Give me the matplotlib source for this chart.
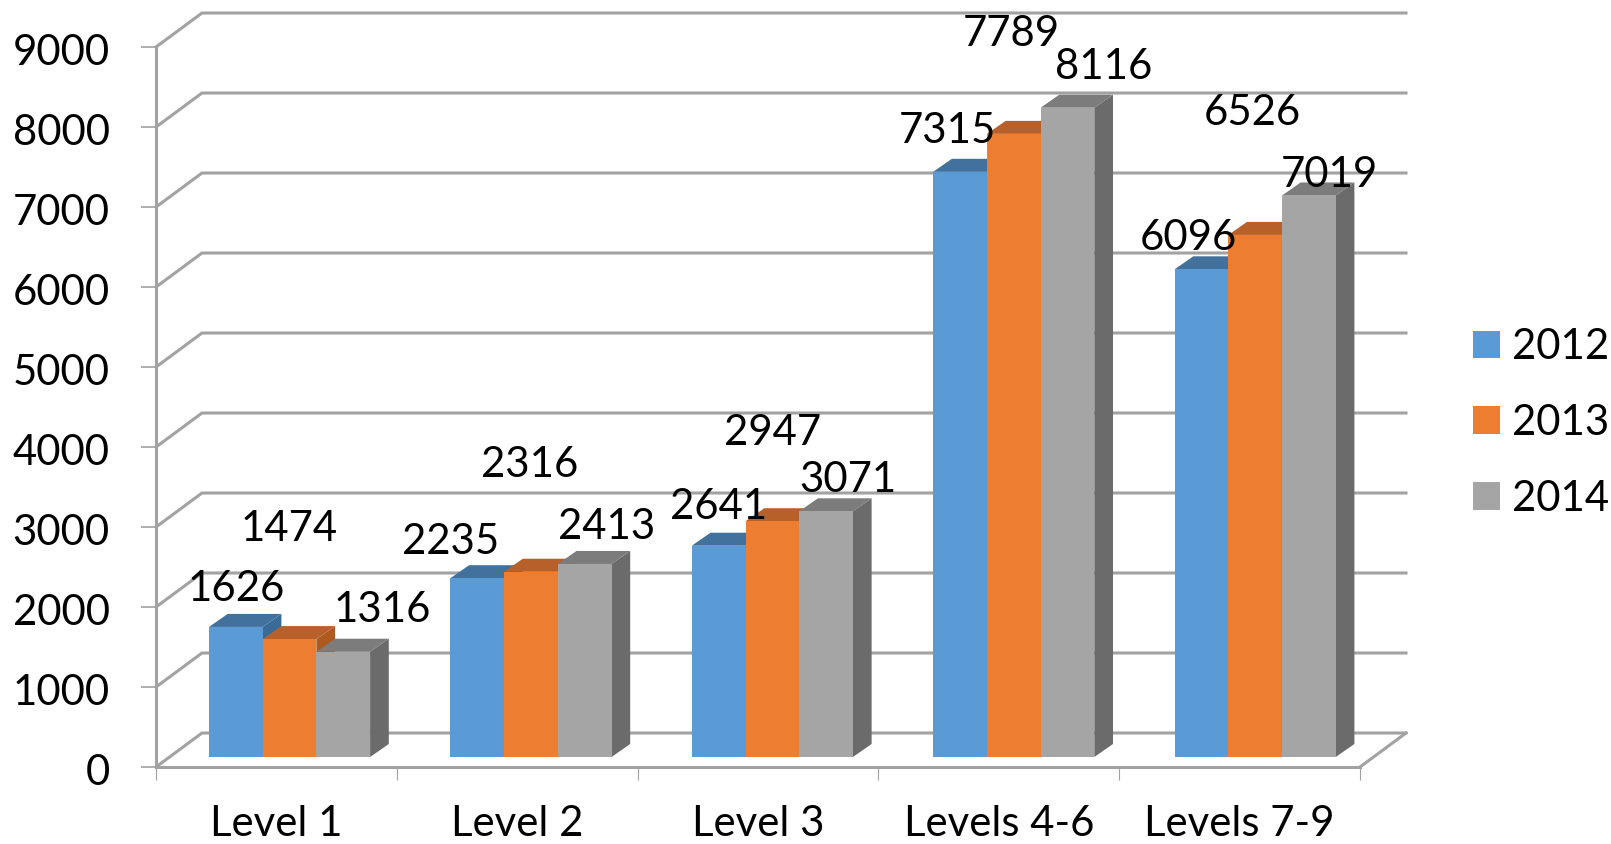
import matplotlib
matplotlib.use("Agg")
import matplotlib.pyplot as plt
from matplotlib.patches import Patch, Polygon
from matplotlib.transforms import ScaledTranslation

plt.rcParams['font.family'] = ['Lato', 'DejaVu Sans']

categories = ["Level 1", "Level 2", "Level 3", "Levels 4-6", "Levels 7-9"]
years = ["2012", "2013", "2014"]
values_2012 = [1626, 2235, 2641, 7315, 6096]
values_2013 = [1474, 2316, 2947, 7789, 6526]
values_2014 = [1316, 2413, 3071, 8116, 7019]
y_ticks = [0, 1000, 2000, 3000, 4000, 5000, 6000, 7000, 8000, 9000]

front_colors = ["#5b9bd5", "#ed7d31", "#a5a5a5"]
top_colors = ["#41719c", "#b8602a", "#7c7c7c"]
side_colors = ["#3a6a96", "#ae5a1e", "#6b6b6b"]
grid_color = "#a2a2a2"
font_size = 30.2

# hand placed data labels, pixels from the top centre of each bar
label_offsets = [
    [(0, 38), (-27, 36), (0, 39), (-13, 41), (-13, 31)],
    [(0, 110), (-1, 107), (0, 88), (-2, 100), (-3, 122)],
    [(39, 42), (22, 37), (22, 31), (36, 41), (21, 20)],
]

# fake 3d: how far the back wall and the bars are shifted
wall_dx = 46 / 240.8
wall_dy = 34 / 0.08
bar_left = 53 / 240.8
group_pitch = 241.4 / 240.8
bar_width = 53.7 / 240.8
bar_dx = 18.7 / 240.8
bar_dy = 13 / 0.08
floor_dy = 10 / 0.08

fig = plt.figure(figsize=(16.11, 8.44), dpi=100)
ax = fig.add_axes([156 / 1611, 77 / 844, 1204 / 1611, 720 / 844])
ax.set_xlim(0, 5)
ax.set_ylim(0, 9000)

for v in y_ticks:
    ax.plot([0, wall_dx, 5 + wall_dx], [v, v + wall_dy, v + wall_dy],
            color=grid_color, lw=2.2, clip_on=False, zorder=1)
ax.plot([5, 5 + wall_dx], [0, wall_dy], color=grid_color, lw=2.2, clip_on=False, zorder=1)

series = [values_2012, values_2013, values_2014]
for i in range(len(categories)):
    for j, vals in enumerate(series):
        x0 = i * group_pitch + bar_left + j * bar_width
        x1 = x0 + bar_width
        y0 = floor_dy
        y1 = floor_dy + vals[i]
        zo = 2 + i + j * 0.1
        ax.add_patch(Polygon([(x1, y0), (x1 + bar_dx, y0 + bar_dy), (x1 + bar_dx, y1 + bar_dy), (x1, y1)],
                             facecolor=side_colors[j], edgecolor="none", clip_on=False, zorder=zo))
        ax.add_patch(Polygon([(x0, y1), (x0 + bar_dx, y1 + bar_dy), (x1 + bar_dx, y1 + bar_dy), (x1, y1)],
                             facecolor=top_colors[j], edgecolor="none", clip_on=False, zorder=zo))
        ax.add_patch(Polygon([(x0, y0), (x1, y0), (x1, y1), (x0, y1)],
                             facecolor=front_colors[j], edgecolor="none", clip_on=False, zorder=zo))
        ax.annotate(str(vals[i]), xy=((x0 + x1) / 2, y1), xytext=label_offsets[j][i],
                    textcoords="offset pixels", ha="center", va="center",
                    fontsize=font_size, color="black", annotation_clip=False, zorder=20)

ax.spines['top'].set_visible(False)
ax.spines['right'].set_visible(False)
ax.spines['left'].set_color(grid_color)
ax.spines['bottom'].set_color(grid_color)
ax.spines['left'].set_linewidth(2.2)
ax.spines['bottom'].set_linewidth(2.2)
ax.spines['left'].set_zorder(1.5)
ax.spines['bottom'].set_zorder(1.5)

ax.set_yticks(y_ticks)
ax.tick_params(axis='y', length=10.8, width=1.2, color=grid_color, pad=22.5, labelsize=font_size)
# Lato digits sit a bit high against the ticks
shift_down = ScaledTranslation(0, -2 / 72, fig.dpi_scale_trans)
for label in ax.get_yticklabels():
    label.set_transform(label.get_transform() + shift_down)

ax.set_xticks(range(6))
ax.set_xticklabels([])
ax.set_xticks([i + 0.5 for i in range(5)], categories, minor=True)
ax.tick_params(axis='x', which='major', length=9.5, width=0.8, color=grid_color)
ax.tick_params(axis='x', which='minor', length=0, pad=27.5, labelsize=font_size)

handles = [Patch(facecolor=c, edgecolor="none", label=y) for c, y in zip(front_colors, years)]
fig.legend(handles=handles, loc="center left", bbox_to_anchor=(1473 / 1611, 1 - 423 / 844),
           frameon=False, fontsize=font_size, handlelength=0.64, handleheight=0.64,
           handletextpad=0.3, labelspacing=0.9, borderpad=0, borderaxespad=0)

fig.savefig("out.png", dpi=100)
